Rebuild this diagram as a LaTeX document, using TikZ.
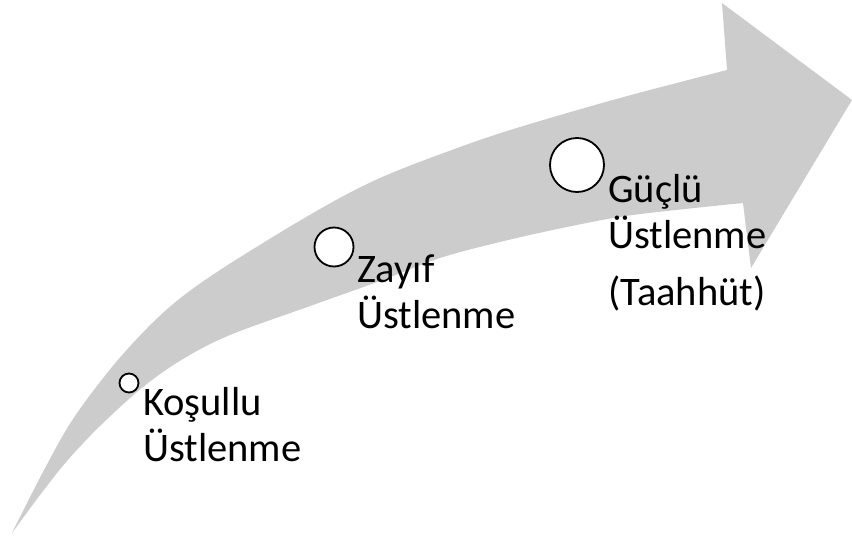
\documentclass[tikz,border=0pt]{standalone}
\usepackage{fontspec}
\setmainfont{Carlito}
\begin{document}
\begin{tikzpicture}[x=1pt,y=-1pt,
  arrowbody/.style={fill=black!20},
  stage/.style={circle,draw=black,fill=white,line width=1.8pt,inner sep=0pt},
  lbl/.style={anchor=base west,inner sep=0pt,font=\fontsize{40.5}{46}\selectfont}]
\useasboundingbox (0,0) rectangle (852,538);

% curved arrow: upper edge, arrowhead, lower edge back to the tail
\fill[arrowbody]
  plot[smooth,tension=0.55] coordinates {(12,533) (43,472) (73,419) (117,361) (165,311) (217,272) (313,213) (380,178) (460,147) (520,127) (620,98) (727,70)}
  -- (722,3) -- (852,100) -- (751,268)
  -- plot[smooth,tension=0.55] coordinates {(743,203) (633,215) (567,227) (500,242) (440,258) (380,281) (313,305) (230,335) (183,359) (143,387) (100,426) (67,461) (40,495) (12,533)}
  -- cycle;

% stage markers
\node[stage,minimum size=19pt] (c1) at (129,383) {};
\node[stage,minimum size=39pt] (c2) at (334,247) {};
\node[stage,minimum size=54pt] (c3) at (577,165) {};

% stage labels
\node[lbl] (k1) at (143,415) {Koşullu};
\node[lbl] (k2) at (143,461) {Üstlenme};
\node[lbl] (z1) at (357,282) {Zayıf};
\node[lbl] (z2) at (357,328) {Üstlenme};
\node[lbl] (g1) at (608,202) {Güçlü};
\node[lbl] (g2) at (608,248) {Üstlenme};
\node[lbl] (g3) at (608,305) {(Taahhüt)};
\end{tikzpicture}
\end{document}
